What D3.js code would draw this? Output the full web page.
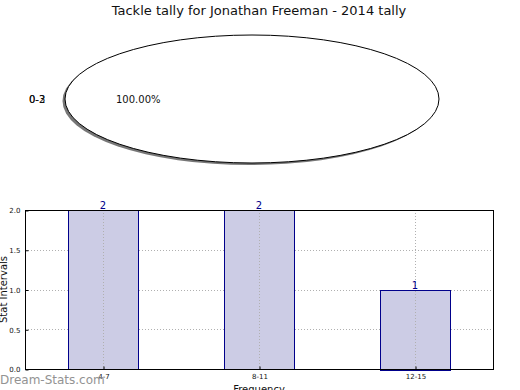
<!DOCTYPE html>
<html>
<head>
<meta charset="utf-8">
<script src="https://cdn.jsdelivr.net/npm/d3@7"></script>
<style>
body { margin: 0; background: #fff; }
text { font-family: "DejaVu Sans", sans-serif; }
</style>
</head>
<body>
<script>
var pieLabels = ["0-3", "0-2"];
var pieValues = [1, 0];
var categories = ["4-7", "8-11", "12-15"];
var counts = [2, 2, 1];
var yTicks = [0, 0.5, 1, 1.5, 2];

var width = 520;
var height = 390;

var svg = d3.select("body").append("svg")
    .attr("width", width)
    .attr("height", height);

// Title
svg.append("text")
    .attr("x", 259)
    .attr("y", 15)
    .attr("text-anchor", "middle")
    .attr("font-size", "13px")
    .attr("fill", "#111")
    .text("Tackle tally for Jonathan Freeman - 2014 tally");

// Pie (squashed into an ellipse)
var cx = 252, cy = 99, rx = 187, ry = 64;
var slices = d3.pie().sort(null)(pieValues).filter(function(d) { return d.value > 0; });
var arc = d3.arc().innerRadius(0).outerRadius(1);

var pieG = svg.append("g");
pieG.append("g")
    .attr("transform", "translate(" + (cx - 2.5) + "," + (cy + 2) + ") scale(" + rx + "," + ry + ")")
    .selectAll("path")
    .data(slices)
    .enter()
    .append("path")
    .attr("d", arc)
    .attr("fill", "#555")
    .attr("opacity", 0.8);
pieG.append("g")
    .attr("transform", "translate(" + cx + "," + cy + ") scale(" + rx + "," + ry + ")")
    .selectAll("path")
    .data(slices)
    .enter()
    .append("path")
    .attr("d", arc)
    .attr("fill", "white")
    .attr("stroke", "black")
    .attr("stroke-width", 1)
    .attr("vector-effect", "non-scaling-stroke");

// Slice labels, all piled on the left
svg.selectAll("text.plabel")
    .data(pieLabels)
    .enter()
    .append("text")
    .attr("class", "plabel")
    .attr("x", 29)
    .attr("y", 103)
    .attr("font-size", "10px")
    .attr("fill", "#111")
    .text(function(d) { return d; });

svg.append("text")
    .attr("x", 116)
    .attr("y", 103)
    .attr("font-size", "10px")
    .attr("fill", "#111")
    .text(d3.format(".2f")(100 * pieValues[0] / d3.sum(pieValues)) + "%");

// Bar chart
var pLeft = 25, pRight = 493, pTop = 210, pBottom = 369;

var x = d3.scaleLinear().domain([-0.5, categories.length - 0.5]).range([pLeft, pRight]);
var y = d3.scaleLinear().domain([0, 2]).range([pBottom, pTop]);
var barW = 0.45;

var grid = svg.append("g")
    .attr("stroke", "#b0b0b0")
    .attr("stroke-width", 1)
    .attr("stroke-dasharray", "1,2");
grid.selectAll("line.gy")
    .data(yTicks)
    .enter()
    .append("line")
    .attr("x1", pLeft)
    .attr("x2", pRight)
    .attr("y1", function(d) { return Math.round(y(d)) + 0.5; })
    .attr("y2", function(d) { return Math.round(y(d)) + 0.5; });

svg.selectAll("rect.bar")
    .data(counts)
    .enter()
    .append("rect")
    .attr("class", "bar")
    .attr("x", function(d, i) { return Math.round(x(i - barW / 2)) + 0.5; })
    .attr("y", function(d) { return Math.round(y(d)) + 0.5; })
    .attr("width", function(d) { return Math.round(x(barW) - x(0)); })
    .attr("height", function(d) { return Math.round(y(0) - y(d)); })
    .attr("fill", "#ccccE5")
    .attr("stroke", "#00008b")
    .attr("stroke-width", 1);

var gridX = svg.append("g")
    .attr("stroke", "#b0b0b0")
    .attr("stroke-width", 1)
    .attr("stroke-dasharray", "1,2");
gridX.selectAll("line.gx")
    .data(categories)
    .enter()
    .append("line")
    .attr("x1", function(d, i) { return Math.round(x(i)) + 0.5; })
    .attr("x2", function(d, i) { return Math.round(x(i)) + 0.5; })
    .attr("y1", pTop)
    .attr("y2", pBottom);

// Frame
svg.append("rect")
    .attr("x", pLeft + 0.5)
    .attr("y", pTop + 0.5)
    .attr("width", pRight - pLeft)
    .attr("height", pBottom - pTop)
    .attr("fill", "none")
    .attr("stroke", "black")
    .attr("stroke-width", 1);

// Y axis
var yAxis = svg.append("g")
    .attr("transform", "translate(" + (pLeft + 0.5) + ",0.5)")
    .call(d3.axisLeft(y).tickValues(yTicks).tickFormat(d3.format(".1f")).tickSize(-3).tickPadding(5));
yAxis.select(".domain").remove();
yAxis.selectAll("text").attr("font-size", "7px").attr("font-family", "DejaVu Sans").attr("fill", "#111");

// X axis
var xAxis = svg.append("g")
    .attr("transform", "translate(0.5," + (pBottom + 0.5) + ")")
    .call(d3.axisBottom(x).tickValues(d3.range(categories.length))
        .tickFormat(function(d) { return categories[d]; }).tickSize(-3).tickPadding(5));
xAxis.select(".domain").remove();
xAxis.selectAll("text").attr("font-size", "7px").attr("font-family", "DejaVu Sans").attr("fill", "#111");

// Value labels
svg.selectAll("text.val")
    .data(counts)
    .enter()
    .append("text")
    .attr("class", "val")
    .attr("x", function(d, i) { return x(i); })
    .attr("y", function(d) { return y(d) - 1; })
    .attr("text-anchor", "middle")
    .attr("font-size", "10px")
    .attr("fill", "#00008b")
    .text(function(d) { return d; });

// Axis titles
svg.append("text")
    .attr("transform", "translate(7," + ((pTop + pBottom) / 2) + ") rotate(-90)")
    .attr("text-anchor", "middle")
    .attr("font-size", "10px")
    .attr("fill", "#111")
    .text("Stat Intervals");

svg.append("text")
    .attr("x", 259)
    .attr("y", 393)
    .attr("text-anchor", "middle")
    .attr("font-size", "10px")
    .attr("fill", "#111")
    .text("Frequency");

// Watermark
svg.append("text")
    .attr("x", 0)
    .attr("y", 384)
    .attr("font-size", "12px")
    .attr("fill", "#888")
    .attr("opacity", 0.9)
    .text("Dream-Stats.com");
</script>
</body>
</html>
